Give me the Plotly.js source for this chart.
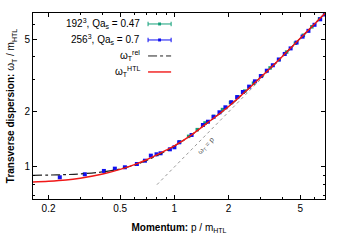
<!DOCTYPE html>
<html>
<head>
<meta charset="utf-8">
<script src="https://cdn.plot.ly/plotly-3.0.1.min.js"></script>
<style>
  html, body { margin: 0; padding: 0; background: #fff; }
  #chart { width: 350px; height: 245px; }
</style>
</head>
<body>
<div id="chart"></div>
<script>
// Momentum values and dispersion (units of m_HTL)
const lat192P = [1.07, 1.2, 1.34, 1.48, 1.65, 1.85, 2.05, 2.25, 2.46, 2.75, 3.05, 3.4, 3.8, 4.2, 4.7, 5.2, 5.8, 6.4];
const lat192W = [1.37, 1.47, 1.6, 1.74, 1.89, 2.06, 2.25, 2.42, 2.6, 2.87, 3.15, 3.48, 3.86, 4.25, 4.75, 5.25, 5.84, 6.45];

const lat256P = [0.231, 0.318, 0.406, 0.467, 0.531, 0.619, 0.686, 0.74, 0.796, 0.838, 0.944, 1.0, 1.063, 1.246, 1.44, 1.535,
                 1.65, 1.78, 1.92, 2.07, 2.23, 2.4, 2.6, 2.8, 3.02, 3.26, 3.52, 3.8, 4.1, 4.42, 4.77, 5.15, 5.55, 6.0, 6.45, 6.85];
const lat256W = [0.878, 0.912, 0.951, 0.979, 0.996, 1.038, 1.082, 1.153, 1.173, 1.188, 1.249, 1.281, 1.364, 1.496, 1.696, 1.768,
                 1.88, 1.99, 2.12, 2.26, 2.41, 2.57, 2.75, 2.94, 3.14, 3.36, 3.6, 3.87, 4.15, 4.45, 4.79, 5.16, 5.55, 5.99, 6.42, 6.82];

const relP = [0.164, 0.2, 0.25, 0.3, 0.4, 0.5, 0.6, 0.7, 0.8, 0.9, 1.0, 1.2, 1.5, 2, 3, 4, 5, 6, 6.86];
const relW = [0.9, 0.903, 0.908, 0.916, 0.94, 0.975, 1.025, 1.085, 1.155, 1.225, 1.3, 1.46, 1.72, 2.14, 3.08, 4.05, 5.05, 6.05, 6.93];

const htlP = [0.164, 0.2, 0.25, 0.3, 0.4, 0.5, 0.6, 0.7, 0.8, 0.9, 1.0, 1.2, 1.5, 2.0, 2.5, 3.0, 4.0, 5.0, 6.0, 6.86];
const htlW = [0.828, 0.835, 0.848, 0.868, 0.915, 0.97, 1.03, 1.095, 1.165, 1.235, 1.305, 1.46, 1.72, 2.14, 2.6, 3.08, 4.05, 5.05, 6.05, 6.93];

// light-cone line omega = p
const coneP = [0.8, 7];
const coneW = [0.8, 7];

const xTicks = [0.2, 0.5, 1, 2, 5];
const xTickText = ['0.2', '0.5', '1', '2', '5'];
const yTicks = [1, 2, 5];
const yTickText = ['1', '2', '5'];

const legendNames = [
  '192<sup>3</sup>, Qa<sub>s</sub> = 0.47',
  '256<sup>3</sup>, Qa<sub>s</sub> = 0.7',
  'ω<sub>T</sub><sup>rel</sup>',
  'ω<sub>T</sub><sup>HTL</sup>'
];

const green = '#13a07a';
const blue = '#1010f0';
const red = '#f01818';
const FONT = 'Liberation Sans, Arial, sans-serif';

var traces = [
  {
    x: coneP, y: coneW, type: 'scatter', mode: 'lines',
    line: {color: '#999', width: 1, dash: 'dot'}, hoverinfo: 'skip'
  },
  {
    x: lat192P, y: lat192W, type: 'scatter', mode: 'markers',
    marker: {symbol: 'square', size: 3.5, color: green}
  },
  {
    x: lat256P, y: lat256W, type: 'scatter', mode: 'markers',
    marker: {symbol: 'square', size: 4, color: blue}
  },
  {
    x: relP, y: relW, type: 'scatter', mode: 'lines',
    line: {color: '#222', width: 1.2, dash: 'dashdot', shape: 'spline'}
  },
  {
    x: htlP, y: htlW, type: 'scatter', mode: 'lines',
    line: {color: red, width: 1.4, shape: 'spline'}
  }
];

// hand-made legend, gnuplot style: text right-aligned, sample on the right
var legY = [0.941, 0.855, 0.769, 0.683];
var sx0 = 0.394, sx1 = 0.473;
var annotations = [];
var shapes = [];
var sampleColors = [green, blue, '#222', red];
for (let i = 0; i < legendNames.length; i++) {
  annotations.push({
    xref: 'paper', yref: 'paper', x: 0.373, y: legY[i],
    xanchor: 'right', yanchor: 'middle', showarrow: false,
    text: legendNames[i], font: {family: FONT, size: 10, color: '#000'}
  });
  shapes.push({
    type: 'line', xref: 'paper', yref: 'paper',
    x0: sx0, x1: sx1, y0: legY[i], y1: legY[i],
    line: {color: sampleColors[i], width: i == 3 ? 1.4 : 1, dash: i == 2 ? 'dashdot' : 'solid'}
  });
  if (i < 2) {
    // error bar caps + marker
    [sx0, sx1].forEach(function(xx) {
      shapes.push({
        type: 'line', xref: 'paper', yref: 'paper',
        x0: xx, x1: xx, y0: legY[i] - 0.012, y1: legY[i] + 0.012,
        line: {color: sampleColors[i], width: 1}
      });
    });
    var mid = (sx0 + sx1) / 2;
    shapes.push({
      type: 'rect', xref: 'paper', yref: 'paper',
      x0: mid - 0.005, x1: mid + 0.005, y0: legY[i] - 0.008, y1: legY[i] + 0.008,
      line: {width: 0}, fillcolor: sampleColors[i]
    });
  }
}

annotations.push({
  xref: 'x', yref: 'y', x: Math.log10(1.5), y: Math.log10(1.3),
  text: 'ω<sub>T</sub> = p', showarrow: false, textangle: -47,
  font: {family: FONT, size: 7, color: '#555'}
});

var layout = {
  width: 350, height: 245,
  margin: {l: 33, r: 25, t: 13, b: 46},
  paper_bgcolor: '#fff', plot_bgcolor: '#fff',
  showlegend: false,
  font: {family: FONT, size: 10, color: '#000'},
  xaxis: {
    type: 'log',
    range: [Math.log10(0.164), Math.log10(6.86)],
    tickmode: 'array', tickvals: xTicks, ticktext: xTickText,
    ticks: 'inside', ticklen: 4, tickcolor: '#000',
    minor: {tickmode: 'array', tickvals: [0.3, 0.4, 0.6, 0.7, 0.8, 0.9, 3, 4, 6], ticks: 'inside', ticklen: 2, tickcolor: '#000'},
    mirror: 'allticks', showline: true, linecolor: '#000', linewidth: 1,
    showgrid: false, zeroline: false,
    tickfont: {family: FONT, size: 10},
    title: {text: '<b>Momentum:</b> p / m<sub>HTL</sub>', font: {family: FONT, size: 10}, standoff: 10}
  },
  yaxis: {
    type: 'log',
    range: [Math.log10(0.668), Math.log10(6.95)],
    tickmode: 'array', tickvals: yTicks, ticktext: yTickText,
    ticks: 'inside', ticklen: 4, tickcolor: '#000',
    minor: {tickmode: 'array', tickvals: [0.7, 0.8, 0.9, 3, 4, 6], ticks: 'inside', ticklen: 2, tickcolor: '#000'},
    mirror: 'allticks', showline: true, linecolor: '#000', linewidth: 1,
    showgrid: false, zeroline: false,
    tickfont: {family: FONT, size: 10},
    title: {text: '<b>Transverse dispersion:</b> ω<sub>T</sub> / m<sub>HTL</sub>', font: {family: FONT, size: 10}, standoff: 7}
  },
  annotations: annotations,
  shapes: shapes
};

Plotly.newPlot('chart', traces, layout, {displayModeBar: false, staticPlot: true});
</script>
</body>
</html>
